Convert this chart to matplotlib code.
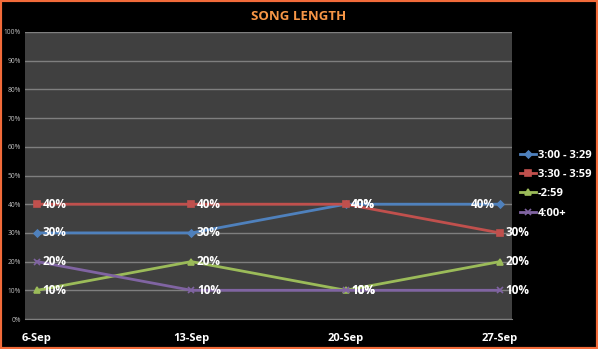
import matplotlib
matplotlib.use("Agg")
import matplotlib.pyplot as plt
from matplotlib.patches import Rectangle

dates = ["6-Sep", "13-Sep", "20-Sep", "27-Sep"]
series_names = ["3:00 - 3:29", "3:30 - 3:59", "-2:59", "4:00+"]
s_300_329 = [30, 30, 40, 40]
s_330_359 = [40, 40, 40, 30]
s_259 = [10, 20, 10, 20]
s_400 = [20, 10, 10, 10]
y_ticks = [0, 10, 20, 30, 40, 50, 60, 70, 80, 90, 100]

series = [s_300_329, s_330_359, s_259, s_400]
colors = ["#4F81BD", "#C0504D", "#9BBB59", "#8064A2"]
markers = ["D", "s", "^", "x"]
msizes = [3.5, 5, 5, 5]

plt.rcParams['font.family'] = ['Open Sans', 'DejaVu Sans']

fig = plt.figure(figsize=(5.98, 3.49), dpi=100, facecolor="black")
ax = fig.add_axes([25/598, 1-319/349, 487/598, 287/349])
ax.set_facecolor("#404040")

x = list(range(len(dates)))
for vals, name, c, m, ms in zip(series, series_names, colors, markers, msizes):
    ax.plot(x, vals, color=c, lw=2, marker=m, ms=ms, label=name, zorder=3,
            markeredgecolor=c, mew=1.2)

# data labels
for si, vals in enumerate(series):
    for i, v in enumerate(vals):
        if si == 0 and i == len(vals) - 1:
            ax.annotate(f"{v}%", (i, v), xytext=(-4, 0), textcoords="offset points",
                        ha="right", va="center", color="white", fontsize=8.5,
                        fontweight="bold", zorder=5)
        else:
            ax.annotate(f"{v}%", (i, v), xytext=(4, 0), textcoords="offset points",
                        ha="left", va="center", color="white", fontsize=8.5,
                        fontweight="bold", zorder=5)

ax.set_ylim(0, 100)
ax.set_xlim(-0.078, 3.078)
ax.set_yticks(y_ticks)
ax.set_yticklabels([f"{t}%" for t in y_ticks], color="#BFBFBF", fontsize=4.8)
ax.set_xticks(x)
ax.set_xticklabels(dates, color="white", fontsize=8, fontweight="bold")
ax.tick_params(axis="both", length=0)
ax.tick_params(axis="x", pad=10)
ax.tick_params(axis="y", pad=3)
ax.yaxis.grid(True, color="#7F7F7F", lw=1)
ax.set_axisbelow(True)
for s in ax.spines.values():
    s.set_visible(False)
ax.spines["bottom"].set_visible(True)
ax.spines["bottom"].set_color("#7F7F7F")

fig.text(299/598, 1-16/349, "SONG LENGTH", color="#F79646", fontsize=9.5,
         fontweight="bold", ha="center", va="center")

leg = ax.legend(loc="center left", bbox_to_anchor=(1.0, 0.47), frameon=False,
                labelcolor="white", prop={"size": 8, "weight": "bold"},
                handlelength=1.5, handletextpad=0.1, labelspacing=0.75,
                borderaxespad=0.3)

fig.patches.append(Rectangle((0, 0), 1, 1, transform=fig.transFigure,
                             fill=False, edgecolor="#F26B3A", lw=3, zorder=10))

fig.savefig("out.png", dpi=100, facecolor="black")
